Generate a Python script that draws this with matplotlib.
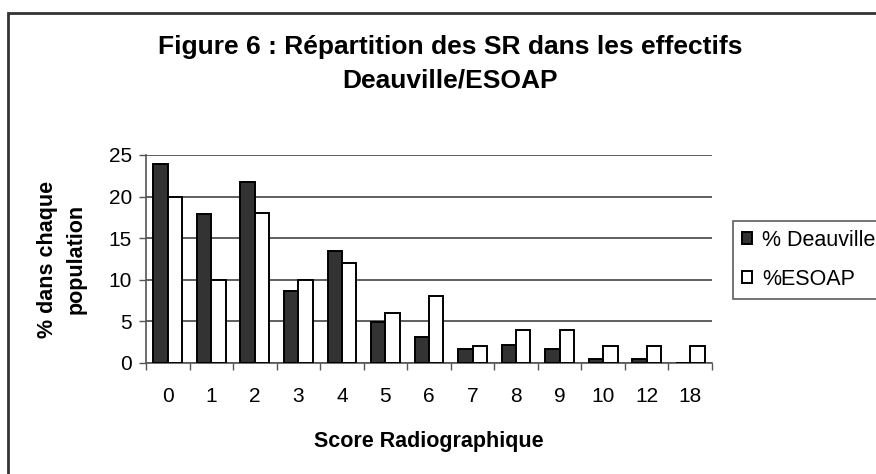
import numpy as np
import matplotlib
matplotlib.use("Agg")
import matplotlib.pyplot as plt
from matplotlib.patches import Rectangle

plt.rcParams['font.family'] = ['Liberation Sans', 'DejaVu Sans']

# Data
categories = ['0', '1', '2', '3', '4', '5', '6', '7', '8', '9', '10', '12', '18']
deauville = [23.9, 17.9, 21.8, 8.7, 13.5, 4.9, 3.1, 1.7, 2.2, 1.7, 0.5, 0.5, 0.0]
esoap = [20, 10, 18, 10, 12, 6, 8, 2, 4, 4, 2, 2, 2]
series_names = ['% Deauville', '%ESOAP']
yticks = [0, 5, 10, 15, 20, 25]

W, H = 876, 474
fig = plt.figure(figsize=(W / 100, H / 100), dpi=100)

# outer chart frame (extends past right and bottom edges)
fig.patches.append(Rectangle((8 / W, -0.1), 1.2, 1 - 13 / H + 0.1,
                             transform=fig.transFigure, fill=False,
                             edgecolor='#333333', linewidth=2))

ax = fig.add_axes([146 / W, 1 - 363 / H, (712 - 146) / W, (363 - 155) / H])

x = np.arange(len(categories))
bw = 0.33
ax.bar(x - bw / 2, deauville, bw, color='#333333', edgecolor='black',
       linewidth=1.4, label=series_names[0], zorder=3)
ax.bar(x + bw / 2, esoap, bw, color='white', edgecolor='black',
       linewidth=1.4, label=series_names[1], zorder=3)

ax.set_xlim(-0.5, len(categories) - 0.5)
ax.set_ylim(0, 25)
ax.set_yticks(yticks)
ax.yaxis.grid(True, color='#444444', linewidth=1.2, zorder=0)
ax.set_axisbelow(True)

ax.set_xticks(x)
ax.set_xticklabels(categories)
ax.set_xticks(np.arange(len(categories) + 1) - 0.5, minor=True)
ax.tick_params(axis='x', which='major', length=0, pad=17, labelsize=15)
ax.tick_params(axis='x', which='minor', length=5, width=1, color='#555555')
ax.tick_params(axis='y', length=5, width=1, color='#555555', labelsize=15, pad=5)

for s in ['top', 'right']:
    ax.spines[s].set_visible(False)
ax.spines['left'].set_color('#555555')
ax.spines['bottom'].set_color('#555555')
ax.spines['left'].set_linewidth(1.2)
ax.spines['bottom'].set_linewidth(1.2)

ax.set_xlabel('Score Radiographique', fontsize=15.5, fontweight='bold', labelpad=18)
ax.set_ylabel('% dans chaque\npopulation', fontsize=15.5, fontweight='bold',
              labelpad=16, linespacing=1.45)

title_x = 450 / W
fig.text(title_x, 1 - 47 / H, 'Figure 6 : Répartition des SR dans les effectifs',
         ha='center', va='center', fontsize=19, fontweight='bold')
fig.text(title_x, 1 - 81 / H, 'Deauville/ESOAP',
         ha='center', va='center', fontsize=19, fontweight='bold')

leg = fig.legend(loc='upper left', bbox_to_anchor=(733 / W, 1 - 221 / H),
                 frameon=True, fancybox=False, edgecolor='#333333',
                 fontsize=15.5, handlelength=0.5, handleheight=0.5,
                 handletextpad=0.45, borderpad=0.4, labelspacing=0.85,
                 borderaxespad=0)
leg.get_frame().set_linewidth(1.2)

fig.savefig('out.png', dpi=100)
